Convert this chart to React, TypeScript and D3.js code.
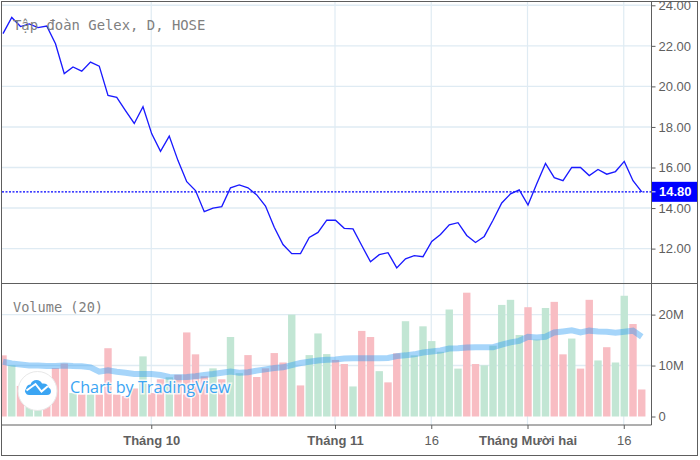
import * as d3 from "d3";
import { useEffect, useRef } from "react";

const prices = [
  22.6, 23.4, 22.95, 23.08, 22.9, 22.98, 22.1, 20.63, 20.96, 20.75, 21.2, 21.0, 19.56, 19.46, 18.8, 18.17, 19.0,
  17.66, 16.8, 17.55, 16.34, 15.3, 14.86, 13.82, 14.0, 14.07, 15.0, 15.14, 15.0, 14.65, 14.1, 13.05, 12.2, 11.75,
  11.75, 12.55, 12.8, 13.4, 13.4, 13.0, 12.97, 12.15, 11.35, 11.7, 11.8, 11.05, 11.5, 11.65, 11.6, 12.35, 12.7,
  13.17, 13.28, 12.65, 12.3, 12.6, 13.4, 14.25, 14.7, 14.9, 14.15, 15.2, 16.2, 15.5, 15.35, 16.0, 16.0, 15.6, 15.9,
  15.67, 15.8, 16.3, 15.35, 14.8,
];

// volume in millions
const volumes = [
  12.0, 10.1, 6.0, 4.5, 3.5, 7.0, 9.5, 10.4, 4.6, 4.3, 4.3, 4.3, 13.4, 4.3, 4.0, 5.5, 11.8, 4.6, 7.3, 7.7, 8.2,
  16.5, 12.2, 7.9, 9.45, 7.3, 15.6, 8.5, 12.05, 7.75, 9.45, 12.45, 10.6, 20.0, 6.1, 12.05, 16.3, 12.25, 11.1, 10.3,
  5.9, 16.8, 15.6, 8.9, 6.7, 12.4, 18.7, 12.0, 17.7, 14.8, 12.7, 21.0, 9.4, 24.3, 10.3, 10.05, 13.9, 21.9, 22.9,
  16.0, 21.45, 15.1, 21.3, 22.5, 12.2, 15.3, 9.4, 22.9, 11.0, 13.6, 10.6, 23.7, 18.15, 5.3,
];

// 1 = up day (green), 0 = down day (red)
const upDays = [
  0, 1, 0, 1, 1, 0, 0, 0, 1, 0, 1, 0, 0, 0, 0, 0, 1, 0, 0, 1, 0, 0, 0, 0, 1, 0, 1, 1, 0, 0, 0, 0, 0, 1, 0, 1, 1, 1,
  0, 0, 1, 0, 0, 1, 0, 0, 1, 1, 1, 1, 1, 1, 1, 0, 0, 1, 1, 1, 1, 1, 0, 1, 1, 0, 0, 1, 0, 0, 1, 0, 1, 1, 0, 0,
];

const volumeMa = [
  10.75, 10.4, 10.2, 10.0, 10.0, 9.9, 9.9, 10.0, 9.9, 9.85, 9.65, 8.8, 9.05, 8.8, 8.6, 8.35, 8.35, 8.35, 8.15, 7.75,
  7.7, 7.75, 7.9, 8.15, 8.35, 8.6, 8.85, 8.6, 8.7, 9.0, 9.25, 9.5, 9.65, 10.1, 10.5, 10.75, 11.0, 11.15, 11.2, 11.4,
  11.45, 11.45, 11.45, 11.45, 11.5, 11.85, 12.0, 12.2, 12.55, 12.75, 12.95, 13.35, 13.4, 13.55, 13.6, 13.6, 13.6,
  14.1, 14.55, 14.85, 15.65, 15.5, 15.65, 16.5, 16.7, 16.9, 16.5, 16.85, 16.7, 16.65, 16.45, 16.65, 16.85, 15.65,
];

const priceTicks = [12, 14, 16, 18, 20, 22, 24];
const volumeTicks = [0, 10, 20];
const timeTicks = [17, 38, 49, 60, 71];
const timeLabels = ["Tháng 10", "Tháng 11", "16", "Tháng Mười hai", "16"];
const boldLabels = [true, true, false, true, false];
const lastPrice = 14.8;

const W = 700;
const H = 460;
const plotLeft = 2;
const plotRight = 651.5;
const priceBottom = 283.5;
const volBottom = 425;
const frameBottom = 455.5;

const gridColor = "#dfebf3";
const frameColor = "#5e5e5e";
const labelColor = "#5f5f5f";
const sansFont = "'Liberation Sans', Arial, sans-serif";
const monoFont = "'DejaVu Sans Mono', monospace";

export default function App() {
  const svgRef = useRef<SVGSVGElement>(null);

  useEffect(() => {
    const svg = d3.select(svgRef.current);
    svg.selectAll("*").remove();

    const x = d3.scaleLinear().domain([0, 73]).range([3, 641.75]);
    const yPrice = d3.scaleLinear().domain([12, 24]).range([248.6, 5.3]);
    const yVol = d3.scaleLinear().domain([0, 20]).range([416.5, 314.6]);
    const barWidth = 7.4;

    svg
      .append("defs")
      .append("clipPath")
      .attr("id", "plot")
      .append("rect")
      .attr("x", plotLeft)
      .attr("y", 2)
      .attr("width", plotRight - plotLeft)
      .attr("height", volBottom - 2);

    const plot = svg.append("g").attr("clip-path", "url(#plot)");

    // grid
    plot
      .selectAll("line.vgrid")
      .data(timeTicks)
      .enter()
      .append("line")
      .attr("x1", (d) => x(d) - 0.5)
      .attr("x2", (d) => x(d) - 0.5)
      .attr("y1", 2)
      .attr("y2", volBottom)
      .attr("stroke", gridColor)
      .attr("stroke-width", 1.2);

    plot
      .selectAll("line.pgrid")
      .data(priceTicks)
      .enter()
      .append("line")
      .attr("x1", plotLeft)
      .attr("x2", plotRight)
      .attr("y1", (d) => yPrice(d))
      .attr("y2", (d) => yPrice(d))
      .attr("stroke", gridColor)
      .attr("stroke-width", 1.4);

    plot
      .selectAll("line.vol-grid")
      .data(volumeTicks.slice(1))
      .enter()
      .append("line")
      .attr("x1", plotLeft)
      .attr("x2", plotRight)
      .attr("y1", (d) => yVol(d))
      .attr("y2", (d) => yVol(d))
      .attr("stroke", gridColor)
      .attr("stroke-width", 1.4);

    // volume bars
    plot
      .selectAll("rect.bar")
      .data(volumes)
      .enter()
      .append("rect")
      .attr("x", (_, i) => x(i) - barWidth / 2)
      .attr("y", (d) => yVol(d))
      .attr("width", barWidth)
      .attr("height", (d) => yVol(0) - yVol(d))
      .attr("fill", (_, i) => (upDays[i] ? "#c2e6d4" : "#f8bdc3"));

    // volume MA
    const maLine = d3
      .line<number>()
      .x((_, i) => x(i))
      .y((d) => yVol(d));
    plot
      .append("path")
      .attr("d", maLine(volumeMa))
      .attr("fill", "none")
      .attr("stroke", "#2196f3")
      .attr("stroke-opacity", 0.4)
      .attr("stroke-width", 6);

    // last price dotted line
    plot
      .append("line")
      .attr("x1", plotLeft)
      .attr("x2", plotRight)
      .attr("y1", yPrice(lastPrice))
      .attr("y2", yPrice(lastPrice))
      .attr("stroke", "#0000ff")
      .attr("stroke-width", 1.4)
      .attr("stroke-dasharray", "2 1.5");

    // price line
    const priceLine = d3
      .line<number>()
      .x((_, i) => x(i))
      .y((d) => yPrice(d));
    plot
      .append("path")
      .attr("d", priceLine(prices))
      .attr("fill", "none")
      .attr("stroke", "#1a1aff")
      .attr("stroke-width", 1.35);

    // watermark
    const mark = svg.append("g");
    mark
      .append("circle")
      .attr("cx", 37.5)
      .attr("cy", 391)
      .attr("r", 19.5)
      .attr("fill", "#fff")
      .attr("stroke", "#e8e8e8");
    mark
      .append("path")
      .attr("d", "M29 395a4 4 0 0 1-3-6.5q1-4 4.5-4q1.5-4.5 6-4.5q4 0 5.5 3.5q6-.5 6.5 4q2.5 1 2.5 3.5q0 4-4 4z")
      .attr("fill", "#3ba5f3");
    mark
      .append("path")
      .attr("d", "M26.5 390.5l9-6.5 6 7.5 6.5-5.5")
      .attr("fill", "none")
      .attr("stroke", "#fff")
      .attr("stroke-width", 2);
    mark
      .append("text")
      .attr("x", 70)
      .attr("y", 393)
      .attr("font-family", "'Open Sans', sans-serif")
      .attr("font-size", 16.2)
      .attr("fill", "#3ba5f3")
      .attr("stroke", "#fff")
      .attr("stroke-width", 3)
      .attr("stroke-opacity", 0.75)
      .attr("paint-order", "stroke")
      .text("Chart by TradingView");

    // legends
    svg
      .append("text")
      .attr("x", 13)
      .attr("y", 30)
      .attr("font-family", monoFont)
      .attr("font-size", 13.9)
      .attr("fill", "#808080")
      .text("Tập đoàn Gelex, D, HOSE");
    svg
      .append("text")
      .attr("x", 13)
      .attr("y", 311.5)
      .attr("font-family", monoFont)
      .attr("font-size", 13.6)
      .attr("fill", "#808080")
      .text("Volume (20)");

    // axes
    const styleAxis = (g) => {
      g.select(".domain").remove();
      g.selectAll(".tick line").attr("stroke", frameColor);
      g.selectAll(".tick text")
        .attr("fill", labelColor)
        .attr("font-family", sansFont)
        .attr("font-size", 13);
    };

    svg
      .append("g")
      .attr("transform", `translate(${plotRight},0)`)
      .call(
        d3
          .axisRight(yPrice)
          .tickValues(priceTicks)
          .tickSize(4)
          .tickPadding(3)
          .tickFormat(d3.format(".2f"))
      )
      .call(styleAxis);

    svg
      .append("g")
      .attr("transform", `translate(${plotRight},0)`)
      .call(
        d3
          .axisRight(yVol)
          .tickValues(volumeTicks)
          .tickSize(4)
          .tickPadding(3)
          .tickFormat((d) => (+d === 0 ? "0" : `${d}M`))
      )
      .call(styleAxis);

    const timeAxis = svg
      .append("g")
      .attr("transform", `translate(-0.5,${volBottom})`)
      .call(
        d3
          .axisBottom(x)
          .tickValues(timeTicks)
          .tickSize(4)
          .tickPadding(7)
          .tickFormat((_, i) => timeLabels[i])
      )
      .call(styleAxis);
    timeAxis.selectAll(".tick text").attr("font-weight", (_, i) => (boldLabels[i] ? "bold" : "normal"));

    // last price label
    const tag = svg.append("g");
    tag
      .append("rect")
      .attr("x", plotRight)
      .attr("y", yPrice(lastPrice) - 10)
      .attr("width", 46)
      .attr("height", 20)
      .attr("fill", "#0000ff");
    tag
      .append("line")
      .attr("x1", plotRight)
      .attr("x2", plotRight + 4)
      .attr("y1", yPrice(lastPrice))
      .attr("y2", yPrice(lastPrice))
      .attr("stroke", "#fff");
    tag
      .append("text")
      .attr("x", plotRight + 7.5)
      .attr("y", yPrice(lastPrice) + 4.6)
      .attr("font-family", sansFont)
      .attr("font-size", 13)
      .attr("font-weight", "bold")
      .attr("fill", "#fff")
      .text(d3.format(".2f")(lastPrice));

    // frame
    const frame = svg.append("g").attr("stroke", frameColor).attr("fill", "none");
    frame.append("rect").attr("x", 1.5).attr("y", 1.5).attr("width", 696).attr("height", frameBottom - 1.5);
    frame.append("line").attr("x1", 1.5).attr("x2", 697.5).attr("y1", priceBottom).attr("y2", priceBottom);
    frame.append("line").attr("x1", 1.5).attr("x2", plotRight).attr("y1", volBottom).attr("y2", volBottom);
    frame.append("line").attr("x1", plotRight).attr("x2", plotRight).attr("y1", 1.5).attr("y2", volBottom);
  }, []);

  return (
    <svg
      ref={svgRef}
      width={W}
      height={H}
      viewBox={`0 0 ${W} ${H}`}
      style={{ position: "absolute", left: 0, top: 0, background: "#fff" }}
    />
  );
}
